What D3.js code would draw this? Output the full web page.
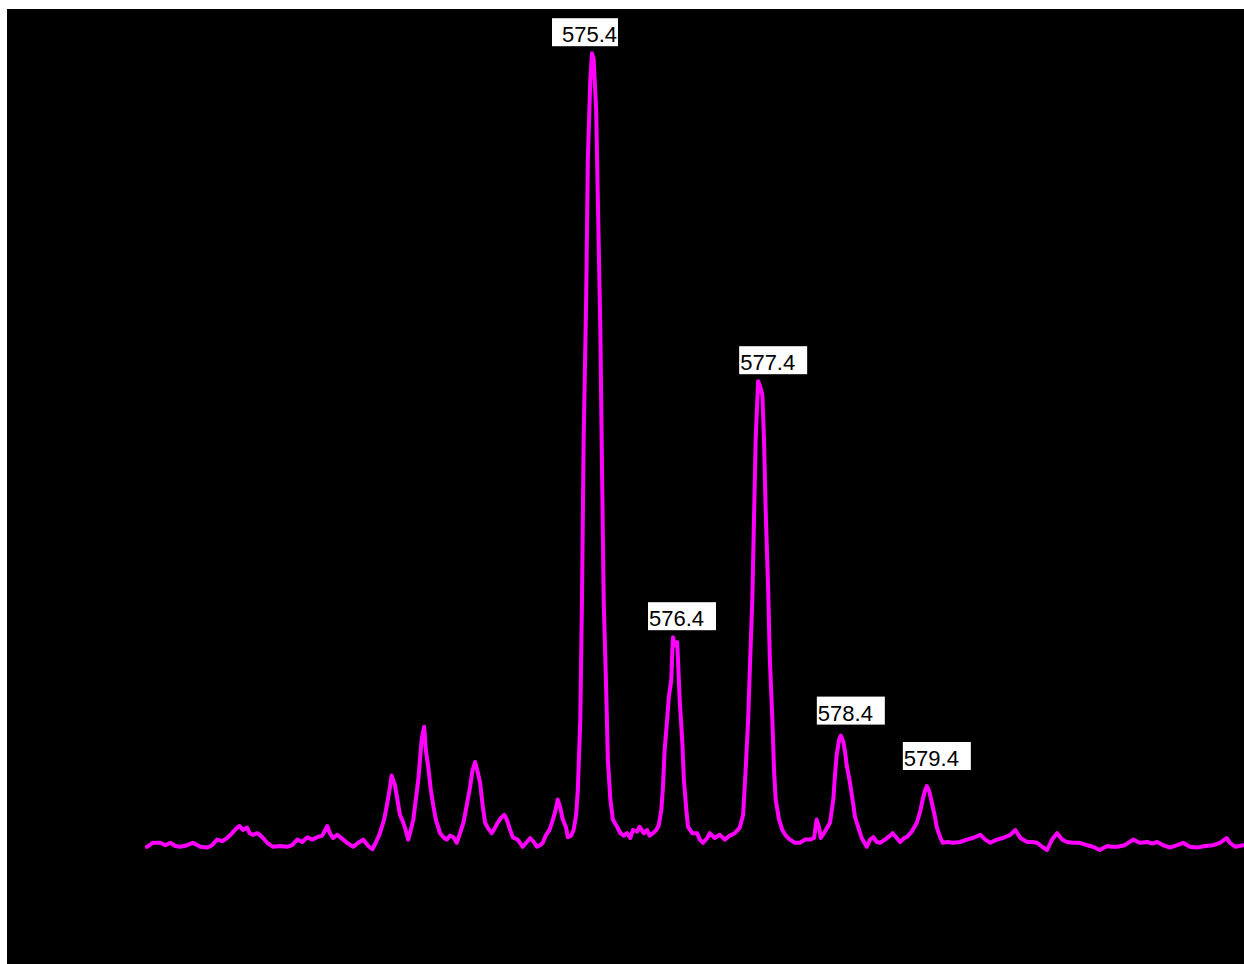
<!DOCTYPE html>
<html>
<head>
<meta charset="utf-8">
<script src="https://cdn.jsdelivr.net/npm/d3@7"></script>
<style>
    html, body { margin: 0; padding: 0; background: #fff; }
    svg { display: block; }
</style>
</head>
<body>
<div id="chart"></div>
<script>
(function () {
    "use strict";

    // m/z of each sampled point of the trace
    const mz = [
        570.07, 570.14, 570.23, 570.29, 570.35, 570.41, 570.47, 570.55, 570.62, 570.71,
        570.79, 570.85, 570.91, 570.97, 571.03, 571.09, 571.15, 571.18, 571.22, 571.27,
        571.30, 571.34, 571.39, 571.42, 571.46, 571.51, 571.58, 571.66, 571.75, 571.81,
        571.87, 571.93, 571.99, 572.05, 572.11, 572.17, 572.23, 572.26, 572.30, 572.35,
        572.42, 572.48, 572.54, 572.60, 572.66, 572.72, 572.77, 572.81, 572.86, 572.91,
        572.94, 572.98, 573.00, 573.04, 573.06, 573.10, 573.14, 573.16, 573.20, 573.23,
        573.26, 573.29, 573.32, 573.34, 573.36, 573.39, 573.41, 573.44, 573.47, 573.50,
        573.53, 573.58, 573.63, 573.66, 573.70, 573.74, 573.78, 573.82, 573.86, 573.90,
        573.94, 573.97, 574.00, 574.03, 574.06, 574.09, 574.12, 574.15, 574.20, 574.24,
        574.27, 574.31, 574.35, 574.38, 574.42, 574.45, 574.51, 574.57, 574.62, 574.66,
        574.71, 574.74, 574.78, 574.81, 574.85, 574.89, 574.92, 574.96, 574.99, 575.02,
        575.05, 575.09, 575.11, 575.15, 575.18, 575.21, 575.23, 575.26, 575.28, 575.30,
        575.33, 575.35, 575.38, 575.40, 575.42, 575.45, 575.47, 575.50, 575.52, 575.54,
        575.57, 575.59, 575.62, 575.65, 575.70, 575.74, 575.78, 575.82, 575.86, 575.89,
        575.94, 575.97, 576.02, 576.06, 576.09, 576.13, 576.17, 576.20, 576.23, 576.25,
        576.27, 576.30, 576.32, 576.35, 576.36, 576.37, 576.39, 576.42, 576.43, 576.45,
        576.48, 576.50, 576.53, 576.55, 576.60, 576.66, 576.69, 576.73, 576.78, 576.81,
        576.87, 576.93, 576.99, 577.05, 577.11, 577.17, 577.21, 577.24, 577.27, 577.29,
        577.32, 577.34, 577.36, 577.38, 577.39, 577.41, 577.44, 577.46, 577.48, 577.51,
        577.53, 577.56, 577.58, 577.60, 577.64, 577.68, 577.72, 577.77, 577.83, 577.89,
        577.95, 578.01, 578.06, 578.09, 578.12, 578.14, 578.19, 578.25, 578.29, 578.31,
        578.33, 578.36, 578.38, 578.41, 578.43, 578.45, 578.49, 578.53, 578.55, 578.59,
        578.63, 578.69, 578.73, 578.77, 578.81, 578.85, 578.91, 578.97, 579.00, 579.05,
        579.09, 579.14, 579.17, 579.23, 579.29, 579.33, 579.36, 579.39, 579.41, 579.44,
        579.47, 579.51, 579.53, 579.57, 579.60, 579.66, 579.72, 579.81, 579.89, 579.96,
        580.05, 580.11, 580.17, 580.25, 580.32, 580.41, 580.47, 580.53, 580.61, 580.67,
        580.73, 580.79, 580.85, 580.91, 580.97, 581.03, 581.09, 581.16, 581.24, 581.33,
        581.40, 581.48, 581.57, 581.63, 581.69, 581.78, 581.88, 581.96, 582.05, 582.11,
        582.17, 582.24, 582.32, 582.41, 582.48, 582.56, 582.65, 582.74, 582.84, 582.92,
        583.00, 583.04, 583.10, 583.20
    ];

    // relative intensity (%) at each m/z above
    const intensity = [
        0.4, 0.9, 0.9, 0.6, 0.9, 0.5, 0.4, 0.6, 0.9, 0.4,
        0.3, 0.6, 1.3, 1.1, 1.5, 2.1, 2.8, 3.0, 2.5, 2.8,
        2.1, 1.9, 2.1, 1.9, 1.5, 0.9, 0.4, 0.5, 0.4, 0.6,
        1.3, 1.0, 1.6, 1.3, 1.6, 1.8, 3.0, 2.1, 1.5, 1.9,
        1.3, 0.8, 0.4, 0.9, 1.3, 0.5, 0.1, 0.9, 2.1, 3.8,
        5.4, 7.8, 9.3, 8.1, 6.9, 4.4, 3.4, 2.8, 1.3, 2.5,
        3.8, 6.3, 8.8, 11.3, 13.8, 15.4, 12.5, 10.3, 7.5, 5.5,
        3.8, 2.1, 1.5, 1.3, 1.8, 1.6, 0.9, 2.1, 3.4, 5.6,
        7.9, 10.0, 11.0, 9.8, 8.4, 5.6, 3.4, 2.8, 2.1, 2.8,
        3.4, 4.0, 4.4, 3.8, 2.5, 1.6, 1.3, 0.4, 1.0, 1.5,
        0.9, 0.4, 0.6, 0.9, 1.9, 2.5, 3.4, 4.8, 6.3, 5.3,
        3.8, 2.8, 1.6, 1.8, 2.5, 4.4, 7.5, 16.3, 31.3, 51.3,
        68.8, 86.3, 96.3, 99.6, 98.8, 92.5, 81.3, 65.0, 47.5, 31.3,
        20.0, 11.3, 6.3, 3.8, 2.9, 2.1, 1.8, 2.1, 1.5, 2.5,
        2.3, 2.9, 2.1, 2.5, 1.8, 2.1, 2.5, 3.1, 5.0, 7.9,
        12.5, 16.3, 19.1, 21.3, 24.4, 26.6, 25.6, 26.0, 23.8, 18.8,
        13.8, 8.8, 5.0, 2.9, 2.1, 2.1, 1.3, 0.9, 1.5, 2.1,
        1.5, 1.9, 1.3, 1.8, 2.1, 2.8, 4.4, 10.0, 16.3, 22.5,
        31.3, 41.3, 51.3, 56.3, 58.6, 58.1, 56.9, 51.3, 42.5, 32.5,
        23.8, 16.3, 10.0, 6.3, 3.8, 2.5, 1.8, 1.3, 0.9, 0.9,
        1.3, 1.3, 1.5, 3.8, 2.8, 1.5, 2.3, 3.4, 6.3, 9.4,
        11.9, 13.8, 14.3, 13.5, 12.3, 10.6, 8.4, 5.6, 4.1, 2.8,
        1.5, 0.4, 1.3, 1.6, 1.0, 0.9, 1.3, 1.8, 2.1, 1.5,
        1.0, 1.5, 1.6, 2.3, 3.4, 4.8, 6.3, 7.5, 8.0, 7.3,
        5.9, 4.0, 2.8, 1.6, 0.9, 1.0, 0.9, 1.0, 1.3, 1.5,
        1.9, 1.3, 0.9, 1.3, 1.5, 1.9, 2.5, 1.5, 1.0, 1.0,
        0.9, 0.4, 0.0, 1.3, 2.1, 1.3, 1.0, 0.9, 0.9, 0.6,
        0.4, 0.0, 0.5, 0.4, 0.4, 0.6, 1.3, 0.9, 1.0, 0.8,
        1.0, 0.6, 0.3, 0.6, 0.9, 0.4, 0.3, 0.5, 0.6, 0.9,
        1.5, 0.9, 0.4, 0.6
    ];

    // annotated peaks
    const peakLabels = ["575.4", "576.4", "577.4", "578.4", "579.4"];
    const peakMz = [575.40, 576.37, 577.39, 578.38, 579.41];
    const peakIntensity = [99.6, 26.6, 58.6, 14.3, 8.0];

    const width = 1244;
    const height = 964;
    const panel = { x: 7, y: 9 };

    const data = mz.map((m, i) => ({ mz: m, value: intensity[i] }));

    const xScale = d3.scaleLinear()
        .domain([570, 584])
        .range([141.1, 1310.1]);

    const yScale = d3.scaleLinear()
        .domain([0, 100])
        .range([850, 50]);

    const svg = d3.select("#chart").append("svg")
        .attr("width", width)
        .attr("height", height);

    svg.append("rect")
        .attr("x", panel.x)
        .attr("y", panel.y)
        .attr("width", width - panel.x)
        .attr("height", height - panel.y)
        .attr("fill", "#000");

    svg.append("clipPath")
        .attr("id", "panel-clip")
        .append("rect")
        .attr("x", panel.x)
        .attr("y", panel.y)
        .attr("width", width - panel.x)
        .attr("height", height - panel.y);

    const line = d3.line()
        .x(d => xScale(d.mz))
        .y(d => yScale(d.value));

    svg.append("path")
        .datum(data)
        .attr("clip-path", "url(#panel-clip)")
        .attr("d", line)
        .attr("fill", "none")
        .attr("stroke", "#ff00ff")
        .attr("stroke-width", 4)
        .attr("stroke-linejoin", "round")
        .attr("stroke-linecap", "round");

    // label box offsets from the peak apex, and text inset
    const boxOffset = [[-40, -35, 10], [-25, -35, 1], [-19, -35, 1], [-24, -39, 1], [-24, -44, 1]];
    const boxW = 68;
    const boxH = 28;

    const labels = svg.selectAll("g.peak-label")
        .data(peakLabels)
        .join("g")
        .attr("class", "peak-label")
        .attr("transform", (d, i) => {
            const bx = xScale(peakMz[i]) + boxOffset[i][0];
            const by = yScale(peakIntensity[i]) + boxOffset[i][1];
            return `translate(${bx},${by})`;
        });

    labels.append("rect")
        .attr("width", (d, i) => boxW - (i === 0 ? 2 : 0))
        .attr("height", boxH)
        .attr("fill", "#fff");

    labels.append("text")
        .attr("x", (d, i) => boxOffset[i][2])
        .attr("y", 24)
        .attr("font-family", "'Liberation Sans', Arial, sans-serif")
        .attr("font-size", 22)
        .attr("fill", "#000")
        .text(d => d);
}());
</script>
</body>
</html>
